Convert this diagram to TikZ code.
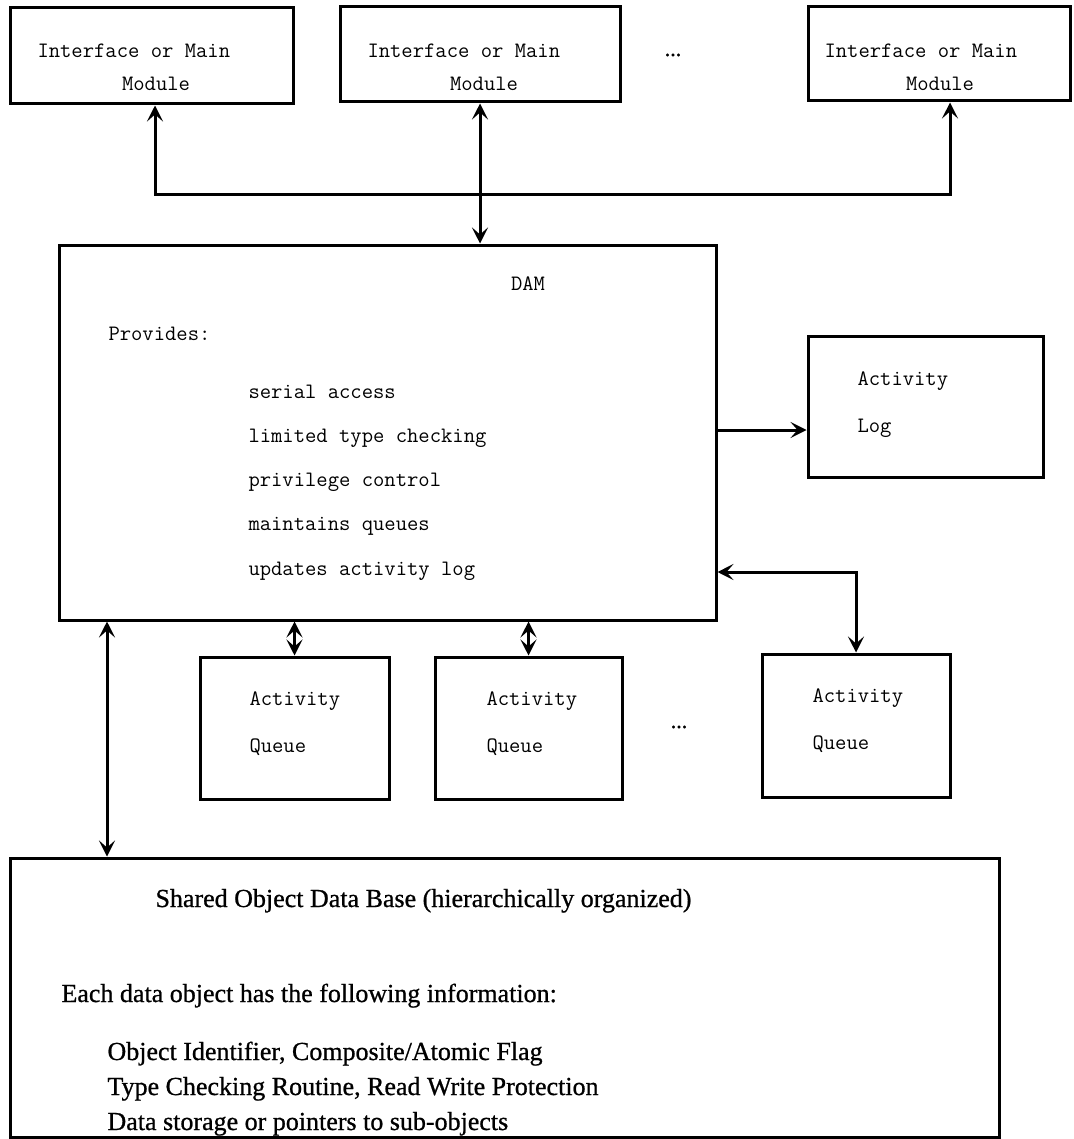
\documentclass[tikz,border=0pt]{standalone}
\usepackage{fontspec}
\newfontfamily\dbfont[FakeBold=0.8]{Liberation Serif}
\usetikzlibrary{arrows.meta,fit}
\tikzset{
  box/.style={draw, inner sep=0pt},
  lbl/.style={anchor=base west, inner sep=0pt,
    font=\fontsize{11}{13}\ttfamily\addfontfeatures{FakeBold=1}},
  dblbl/.style={anchor=base west, inner sep=0pt, font=\fontsize{13}{15}\dbfont},
  dots/.style={anchor=base, inner sep=0pt, font=\fontsize{11}{13}\dbfont},
}
\begin{document}
\begin{tikzpicture}[x=0.5pt, y=-0.5pt, line width=1.5pt,
    >={Stealth[length=8pt,width=8pt,inset=3.5pt]}]
    \useasboundingbox (0,0) rectangle (1073,1139);
    % interface or main modules
    \node[box, fit={(10,8) (293,104)}] (mod1) {};
    \node[box, fit={(340,7) (620,102)}] (mod2) {};
    \node[box, fit={(808,7) (1070,101)}] (mod3) {};
    \node[lbl] (mod1a) at (36,58) {Interface or Main};
    \node[lbl, anchor=base] (mod1b) at (156,91) {Module};
    \node[lbl] (mod2a) at (366,58) {Interface or Main};
    \node[lbl, anchor=base] (mod2b) at (484,91) {Module};
    \node[lbl] (mod3a) at (823,58) {Interface or Main};
    \node[lbl, anchor=base] (mod3b) at (940,91) {Module};
    \node[dots] (moddots) at (673,56) {...};
    % DAM
    \node[box, fit={(59,245) (716,620)}] (dam) {};
    \node[lbl, anchor=base] (damt) at (528,290) {DAM};
    \node[lbl] (prov) at (107,340) {Provides:};
    \node[lbl] (p1) at (247,398) {serial access};
    \node[lbl] (p2) at (247,442) {limited type checking};
    \node[lbl] (p3) at (247,486) {privilege control};
    \node[lbl] (p4) at (247,530) {maintains queues};
    \node[lbl] (p5) at (247,575) {updates activity log};
    % log and queues
    \node[box, fit={(808,336) (1043,477)}] (log) {};
    \node[lbl] (loga) at (856,385) {Activity};
    \node[lbl] (logb) at (856,432) {Log};
    \node[box, fit={(200,657) (389,799)}] (q1) {};
    \node[box, fit={(435,657) (622,799)}] (q2) {};
    \node[box, fit={(762,654) (950,797)}] (q3) {};
    \node[lbl] (q1a) at (248,705) {Activity};
    \node[lbl] (q1b) at (248,752) {Queue};
    \node[lbl] (q2a) at (485,705) {Activity};
    \node[lbl] (q2b) at (485,752) {Queue};
    \node[lbl] (q3a) at (811,702) {Activity};
    \node[lbl] (q3b) at (811,749) {Queue};
    \node[dots] (qdots) at (679,728) {...};
    % shared object data base
    \node[box, fit={(10,858) (999,1137)}] (db) {};
    \node[dblbl] (dbt) at (154,907) {Shared Object Data Base (hierarchically organized)};
    \node[dblbl] (dbe) at (60,1002) {Each data object has the following information:};
    \node[dblbl] (db1) at (106,1060) {Object Identifier, Composite/Atomic Flag};
    \node[dblbl] (db2) at (106,1095) {Type Checking Routine, Read Write Protection};
    \node[dblbl] (db3) at (106,1130) {Data storage or pointers to sub-objects};
    % connectors
    \coordinate (bus1) at (155,195);
    \coordinate (bus3) at (950,195);
    \coordinate (logy) at (0,430);
    \coordinate (q3y) at (0,572);
    \coordinate (dbx) at (107,0);
    \draw[<->] (mod1.south -| bus1) -- (bus1) -- (bus3) -- (mod3.south -| bus3);
    \draw[<->] (mod2.south) -- (mod2.south |- dam.north);
    \draw[->] (dam.east |- logy) -- (log.west |- logy);
    \draw[<->] (dam.east |- q3y) -| (q3.north);
    \draw[<->] (q1.north) -- (q1.north |- dam.south);
    \draw[<->] (q2.north) -- (q2.north |- dam.south);
    \draw[<->] (dam.south -| dbx) -- (db.north -| dbx);
\end{tikzpicture}
\end{document}
